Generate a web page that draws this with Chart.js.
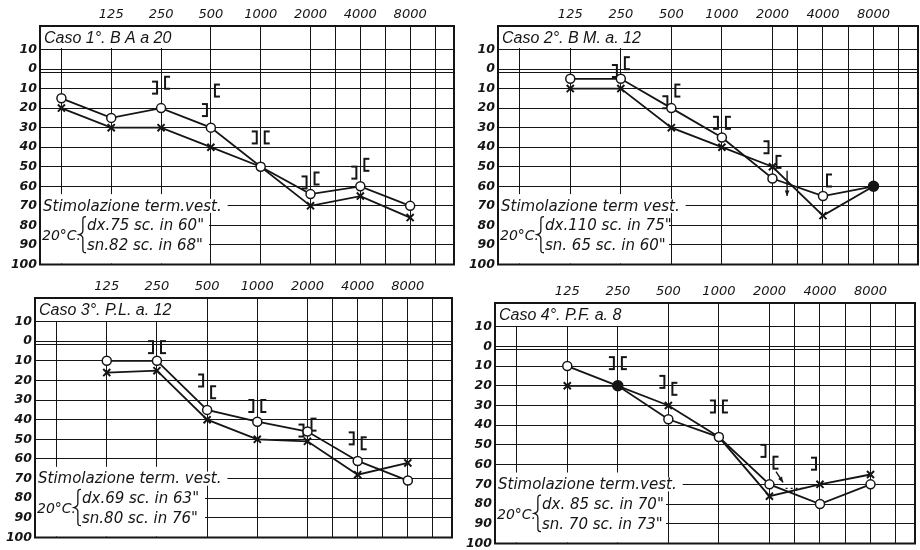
<!DOCTYPE html>
<html><head><meta charset="utf-8">
<script src="https://cdn.jsdelivr.net/npm/chart.js@4/dist/chart.umd.min.js"></script>
<style>
html,body{margin:0;padding:0;background:#fff;overflow:hidden;width:920px;height:550px;position:relative;}
canvas{position:absolute;}
</style></head><body>
<canvas id="c1"></canvas><canvas id="c2"></canvas><canvas id="c3"></canvas><canvas id="c4"></canvas>
<script>
// ---------- data ----------
const xPositions = [0, 1, 2, 3, 4, 5, 6, 7];            // 64 .. 8000 Hz (octave index)
const freqTickPositions = [1, 2, 3, 4, 5, 6, 7];
const freqLabels = ['125', '250', '500', '1000', '2000', '4000', '8000'];
const gridPositions = [0, 1, 2, 3, 4, 5, 5.5, 6, 6.5, 7, 7.5];
const dbTicks = [-10, 0, 10, 20, 30, 40, 50, 60, 70, 80, 90, 100];
const dbTickLabels = ['10', '0', '10', '20', '30', '40', '50', '60', '70', '80', '90', '100'];

const titles = ['Caso 1°. B A a 20', 'Caso 2°. B M. a. 12', 'Caso 3°. P.L. a. 12', 'Caso 4°. P.F. a. 8'];
const stimLabels = ['Stimolazione term.vest.', 'Stimolazione term vest.', 'Stimolazione term. vest.', 'Stimolazione term.vest.'];
const tempLabel = '20°C.';
const dxLines = ['dx.75 sc. in 60"', 'dx.110 sc. in 75"', 'dx.69 sc. in 63"', 'dx. 85 sc. in 70"'];
const snLines = ['sn.82 sc. in 68"', 'sn. 65 sc. in 60"', 'sn.80 sc. in 76"', 'sn. 70 sc. in 73"'];

// air conduction: O = dx, X = sn ; bone conduction: [ = dx, ] = sn
const case1Dx = [15, 25, 20, 30, 50, 64, 60, 70];
const case1Sn = [20, 30, 30, 40, 50, 70, 65, 76];
const case1BoneDx = [null, null, 7, 11, 35, 56, 49, null];
const case1BoneSn = [null, null, 9.5, 21, 35, 58, 53, null];

const case2Dx = [null, 5, 5, 20, 35, 56, 65, 60];
const case2Sn = [null, 10, 10, 30, 40, 50, 75, 60];
const case2BoneDx = [null, null, -3, 11, 27.5, 47.5, 57, null];
const case2BoneSn = [null, null, 1, 17, 27.5, 40, null, null];

const case3Dx = [null, 10, 10, 35, 41, 46, 61, 71];
const case3Sn = [null, 16, 15, 40, 50, 51, 68, 62];
const case3BoneDx = [null, null, 3, 26, 33, 42.5, 52, null];
const case3BoneSn = [null, null, 3, 20, 33, 45.5, 49.5, null];

const case4Dx = [null, 10, 20, 37, 46, 70, 80, 70];
const case4Sn = [null, 20, 20, 30, 46, 76, 70, 65];
const case4BoneDx = [null, null, 8.5, 21.5, 30.5, 59, null, null];
const case4BoneSn = [null, null, 8.5, 18, 30.5, 53, 59.5, null];

// indices where both ears coincide and were drawn as a solid dot
const case1Solid = [];
const case2Solid = [7];
const case3Solid = [];
const case4Solid = [2];

// "no response" arrows: [xFrom, dbFrom, xTo, dbTo]
const case2Arrows = [[5.29, 52, 5.29, 65]];
const case4Arrows = [[5.13, 63.5, 5.27, 69]];
// dotted segment in case 4: [xFrom, xTo, db]
const case4Dotted = [[5.32, 5.72, 72]];

// ---------- drawing ----------
const INK = '#151515';
const Y_W = 40, X_H = 26, PAD_R = 4, PAD_B = 10;

function makeBracket(open) {
  const c = document.createElement('canvas');
  c.width = 24; c.height = 16;
  const g = c.getContext('2d');
  g.strokeStyle = INK; g.lineWidth = 2; g.lineJoin = 'miter';
  g.beginPath();
  if (open) { g.moveTo(21, 2); g.lineTo(16, 2); g.lineTo(16, 14); g.lineTo(21, 14); }
  else { g.moveTo(3, 2); g.lineTo(8, 2); g.lineTo(8, 14); g.lineTo(3, 14); }
  g.stroke();
  return c;
}
const openBracket = makeBracket(true);
const closeBracket = makeBracket(false);

function pts(arr) { return xPositions.map((x, i) => ({ x: x, y: arr[i] })); }

function drawBrace(ctx, x, y1, y2, w) {
  const ym = (y1 + y2) / 2, xm = x + w * 0.55;
  ctx.beginPath();
  ctx.moveTo(x + w, y1);
  ctx.bezierCurveTo(xm, y1, xm, y1 + 1, xm, y1 + 5);
  ctx.lineTo(xm, ym - 4);
  ctx.bezierCurveTo(xm, ym - 1, x, ym, x, ym);
  ctx.bezierCurveTo(x, ym, xm, ym + 1, xm, ym + 4);
  ctx.lineTo(xm, y2 - 5);
  ctx.bezierCurveTo(xm, y2 - 1, xm, y2, x + w, y2);
  ctx.stroke();
}

function buildChart(id, area, idx, dx, sn, boneDx, boneSn, solid, arrows, dotted) {
  const cv = document.getElementById(id);
  const W = (area[2] - area[0]) + Y_W + PAD_R;
  const H = (area[3] - area[1]) + X_H + PAD_B;
  cv.width = W; cv.height = H;
  cv.style.left = (area[0] - Y_W) + 'px';
  cv.style.top = (area[1] - X_H) + 'px';
  cv.style.width = W + 'px'; cv.style.height = H + 'px';

  const deco = {
    id: 'deco' + id,
    beforeDatasetsDraw(chart) {
      const ctx = chart.ctx, a = chart.chartArea, xs = chart.scales.x, ys = chart.scales.y;
      ctx.save();
      // second line of the double zero line
      ctx.strokeStyle = INK; ctx.lineWidth = 1;
      const yz = Math.round(ys.getPixelForValue(0)) + 3.5;
      ctx.beginPath(); ctx.moveTo(a.left, yz); ctx.lineTo(a.right, yz); ctx.stroke();
      const xb = Math.round(xs.getPixelForValue(3)) - 2;
      // title box
      const ym10 = Math.round(ys.getPixelForValue(-10));
      ctx.fillStyle = '#fff';
      ctx.fillRect(a.left + 1, a.top + 1, xb - a.left - 1, ym10 - a.top - 2);
      ctx.fillStyle = INK;
      ctx.font = 'italic 16px "Liberation Sans"';
      ctx.textBaseline = 'middle'; ctx.textAlign = 'left';
      ctx.fillText(titles[idx], a.left + 4, (a.top + ym10) / 2 + 1);
      // stimulation box
      const yTop = ys.getPixelForValue(64);
      ctx.fillStyle = '#fff';
      ctx.fillRect(a.left + 1, yTop, xb - a.left - 1, a.bottom - yTop - 1);
      ctx.font = 'italic 15px "DejaVu Sans"';
      const y70 = ys.getPixelForValue(70);
      const sw = ctx.measureText(stimLabels[idx]).width;
      ctx.fillRect(a.left + 1, y70 - 7, sw + 8, 14);
      ctx.fillStyle = INK;
      ctx.fillText(stimLabels[idx], a.left + 3, y70 + 1);
      ctx.font = 'italic 14px "DejaVu Sans"';
      ctx.fillText(tempLabel, a.left + 2, ys.getPixelForValue(85) + 1);
      ctx.font = 'italic 15px "DejaVu Sans"';
      ctx.fillText(dxLines[idx], a.left + 47, ys.getPixelForValue(80) + 1);
      ctx.fillText(snLines[idx], a.left + 47, ys.getPixelForValue(90) + 1);
      ctx.lineWidth = 1.3; ctx.strokeStyle = INK;
      drawBrace(ctx, a.left + 39, ys.getPixelForValue(75.5), ys.getPixelForValue(94), 7);
      // outer frame
      ctx.lineWidth = 2;
      ctx.strokeRect(a.left, a.top, a.right - a.left, a.bottom - a.top);
      // arrows
      ctx.lineWidth = 1.4;
      (arrows || []).forEach(r => {
        const x1 = xs.getPixelForValue(r[0]), y1 = ys.getPixelForValue(r[1]);
        const x2 = xs.getPixelForValue(r[2]), y2 = ys.getPixelForValue(r[3]);
        ctx.beginPath(); ctx.moveTo(x1, y1); ctx.lineTo(x2, y2); ctx.stroke();
        const ang = Math.atan2(y2 - y1, x2 - x1);
        ctx.beginPath();
        ctx.moveTo(x2, y2);
        ctx.lineTo(x2 - 6 * Math.cos(ang - 0.4), y2 - 6 * Math.sin(ang - 0.4));
        ctx.lineTo(x2 - 6 * Math.cos(ang + 0.4), y2 - 6 * Math.sin(ang + 0.4));
        ctx.closePath(); ctx.fillStyle = INK; ctx.fill();
      });
      (dotted || []).forEach(r => {
        ctx.setLineDash([2, 3]); ctx.lineWidth = 1.2;
        const yy = ys.getPixelForValue(r[2]);
        ctx.beginPath(); ctx.moveTo(xs.getPixelForValue(r[0]), yy); ctx.lineTo(xs.getPixelForValue(r[1]), yy); ctx.stroke();
        ctx.setLineDash([]);
      });
      ctx.restore();
    }
  };

  const fillFor = (ctx) => solid.indexOf(ctx.dataIndex) >= 0 ? INK : '#fff';

  return new Chart(cv, {
    type: 'line',
    data: {
      datasets: [
        { label: 'dx', data: pts(dx), borderColor: INK, borderWidth: 1.8, pointStyle: 'circle',
          pointRadius: (c) => solid.indexOf(c.dataIndex) >= 0 ? 5 : 4.5, pointBorderWidth: 1.5,
          pointBorderColor: INK, pointBackgroundColor: fillFor, tension: 0, fill: false },
        { label: 'sn', data: pts(sn), borderColor: INK, borderWidth: 1.8, pointStyle: 'crossRot',
          pointRadius: 5, pointBorderWidth: 2, pointBorderColor: INK, tension: 0, fill: false },
        { label: 'dx bone', data: pts(boneDx), showLine: false, pointStyle: openBracket, pointRadius: 6 },
        { label: 'sn bone', data: pts(boneSn), showLine: false, pointStyle: closeBracket, pointRadius: 6 }
      ]
    },
    options: {
      responsive: false, animation: false, devicePixelRatio: 1,
      layout: { padding: { left: 0, top: 0, right: PAD_R, bottom: PAD_B } },
      plugins: { legend: { display: false }, tooltip: { enabled: false } },
      scales: {
        x: {
          type: 'linear', position: 'top', min: -0.43, max: 7.88,
          afterBuildTicks: (s) => { s.ticks = gridPositions.map(v => ({ value: v })); },
          afterFit: (s) => { s.height = X_H; },
          grid: { color: INK, lineWidth: 1, drawTicks: false },
          border: { display: true, color: INK, width: 2 },
          ticks: {
            autoSkip: false, maxRotation: 0, padding: 4, color: INK,
            font: { family: 'DejaVu Sans', size: 13, style: 'italic' },
            callback: (v) => { const i = freqTickPositions.indexOf(v); return i >= 0 ? freqLabels[i] : ''; }
          }
        },
        y: {
          type: 'linear', reverse: true, min: -22, max: 100,
          afterBuildTicks: (s) => { s.ticks = dbTicks.map(v => ({ value: v })); },
          afterFit: (s) => { s.width = Y_W; },
          grid: { color: INK, lineWidth: 1, drawTicks: false },
          border: { display: true, color: INK, width: 2 },
          ticks: {
            autoSkip: false, padding: 3, color: INK,
            font: { family: 'DejaVu Sans', size: 12.5, style: 'italic', weight: 'bold' },
            callback: (v) => { const i = dbTicks.indexOf(v); return i >= 0 ? dbTickLabels[i] : ''; }
          }
        }
      }
    },
    plugins: [deco]
  });
}

buildChart('c1', [40, 26, 457, 265], 0, case1Dx, case1Sn, case1BoneDx, case1BoneSn, case1Solid, [], []);
buildChart('c2', [498, 26, 921, 265], 1, case2Dx, case2Sn, case2BoneDx, case2BoneSn, case2Solid, case2Arrows, []);
buildChart('c3', [35, 298, 455, 538], 2, case3Dx, case3Sn, case3BoneDx, case3BoneSn, case3Solid, [], []);
buildChart('c4', [495, 303, 918, 544], 3, case4Dx, case4Sn, case4BoneDx, case4BoneSn, case4Solid, case4Arrows, case4Dotted);
</script>
</body></html>
